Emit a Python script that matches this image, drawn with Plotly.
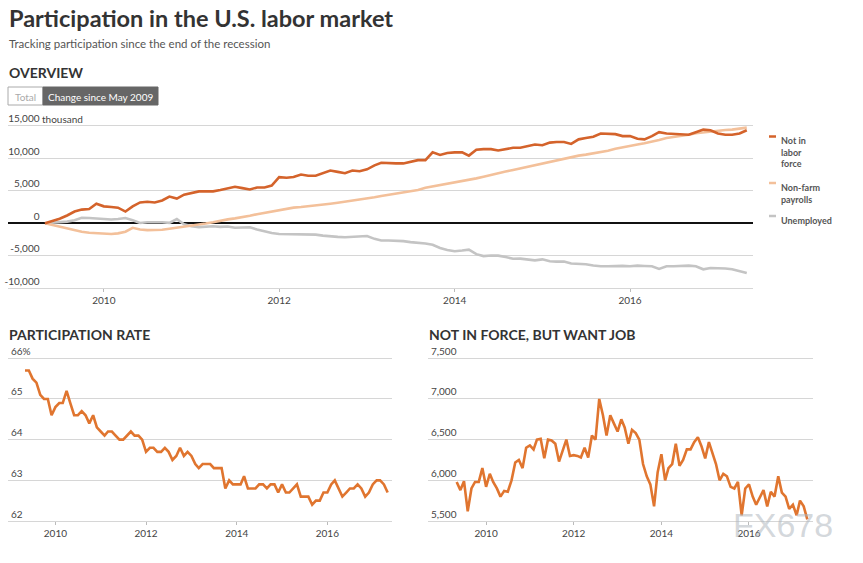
import pandas as pd
import plotly.graph_objects as go

W, H = 863, 563

# ---------------- data (monthly, May 2009 - May 2017) ----------------
months = pd.date_range("2009-05-01", "2017-05-01", freq="MS")

not_in_labor_force = [
    0, 300, 700, 1200, 1800, 2100, 2200, 3000, 2600, 2500, 2400, 1800,
    2600, 3200, 3300, 3200, 3500, 4100, 3800, 4400, 4700, 4900, 4900, 4900,
    5100, 5400, 5600, 5400, 5200, 5500, 5500, 5800, 7100, 7000, 7100, 7500,
    7300, 7300, 7700, 8100, 7900, 7700, 8100, 8000, 8300, 8900, 9300, 9200,
    9200, 9200, 9400, 9700, 9700, 10900, 10500, 10800, 10900, 10900, 10400, 11300,
    11400, 11400, 11200, 11400, 11600, 11600, 11800, 12100, 12000, 12400, 12500, 12500,
    12200, 12900, 13100, 13300, 13800, 13700, 13700, 13400, 13400, 13000, 12900, 13400,
    14000, 13800, 13700, 13600, 13600, 14000, 14400, 14300, 13800, 13600, 13600, 13800,
    14300,
]
non_farm_payrolls = [
    0, -280, -560, -850, -1100, -1300, -1450, -1550, -1620, -1650, -1550, -1300,
    -700, -950, -1050, -1080, -1000, -850, -700, -600, -450, -300, -50, 150,
    400, 600, 750, 900, 1150, 1400, 1600, 1850, 2100, 2250, 2400, 2500,
    2600, 2700, 2800, 3000, 3150, 3300, 3450, 3600, 3800, 4000, 4200, 4400,
    4550, 4700, 4900, 5100, 5450, 5650, 5850, 6050, 6300, 6450, 6600, 6900,
    7150, 7450, 7700, 7950, 8200, 8450, 8700, 8950, 9250, 9450, 9700, 9950,
    10200, 10400, 10550, 10750, 10900, 11150, 11450, 11700, 11900, 12100, 12300, 12500,
    12800, 13100, 13250, 13450, 13600, 13850, 14000, 14150, 14250, 14350, 14400, 14550,
    14700,
]
unemployed = [
    0, 50, 150, 250, 450, 850, 800, 700, 650, 580, 650, 800,
    450, 50, 150, 200, 150, 60, 650, -150, -450, -600, -550, -470,
    -560, -500, -700, -650, -620, -950, -1250, -1500, -1640, -1640, -1700, -1740,
    -1720, -1750, -1900, -2050, -2100, -2150, -2100, -2050, -1950, -2400, -2650, -2650,
    -2650, -2750, -2900, -2980, -3100, -3300, -3800, -4100, -4300, -4200, -4050, -4750,
    -5050, -4950, -4980, -5200, -5450, -5440, -5600, -5700, -5550, -5850, -5900, -5880,
    -6200, -6250, -6310, -6500, -6620, -6600, -6550, -6550, -6620, -6510, -6560, -6620,
    -7030, -6620, -6620, -6580, -6510, -6620, -7080, -6870, -6870, -6950, -7080, -7390,
    -7640,
]
participation_rate = [
    65.7, 65.7, 65.5, 65.4, 65.1, 65.0, 65.0, 64.6, 64.8, 64.9, 64.9, 65.2,
    64.9, 64.6, 64.6, 64.7, 64.6, 64.4, 64.6, 64.3, 64.2, 64.1, 64.2, 64.2,
    64.1, 64.0, 64.0, 64.1, 64.2, 64.1, 64.1, 64.0, 63.7, 63.8, 63.8, 63.7,
    63.7, 63.8, 63.7, 63.5, 63.6, 63.8, 63.6, 63.7, 63.6, 63.4, 63.3, 63.4,
    63.4, 63.4, 63.3, 63.3, 63.3, 62.8, 63.0, 62.9, 62.9, 62.9, 63.1, 62.8,
    62.8, 62.8, 62.9, 62.9, 62.8, 62.9, 62.9, 62.7, 62.9, 62.7, 62.7, 62.8,
    62.9, 62.6, 62.6, 62.6, 62.4, 62.5, 62.5, 62.7, 62.7, 62.9, 63.0, 62.8,
    62.6, 62.7, 62.8, 62.8, 62.9, 62.8, 62.6, 62.7, 62.9, 63.0, 63.0, 62.9,
    62.7,
]
want_job = [
    5980, 5880, 5990, 5620, 5900, 5980, 5980, 6150, 5920, 6080, 5980, 5900,
    5800, 5870, 5860, 6000, 6220, 6250, 6150, 6400, 6430, 6380, 6500, 6510,
    6270, 6500, 6490, 6450, 6230, 6370, 6500, 6300, 6310, 6300, 6280, 6400,
    6280, 6550, 6500, 7000, 6800, 6550, 6800, 6700, 6600, 6750, 6650, 6450,
    6620, 6580, 6500, 6200, 6050, 5950, 5680, 6100, 6320, 6000, 6150, 6200,
    6450, 6180, 6250, 6380, 6380, 6470, 6530, 6420, 6270, 6470, 6330, 6200,
    6000, 6080, 6050, 5920, 5900, 5980, 5570, 5900, 5950, 5800, 5700, 5800,
    5880, 5680, 5860, 5800, 6050, 5850, 5800, 5650, 5700, 5570, 5750, 5680,
    5520,
]

overview_names = ["Not in labor force", "Non-farm payrolls", "Unemployed"]
legend_labels = ["Not in<br>labor<br>force", "Non-farm<br>payrolls", "Unemployed"]
year_ticks = ["2010-01-01", "2012-01-01", "2014-01-01", "2016-01-01"]
year_labels = ["2010", "2012", "2014", "2016"]
top_ticks = [-10000, -5000, 0, 5000, 10000, 15000]
top_labels = ["-10,000", "-5,000", "0", "5,000", "10,000", "15,000"]
rate_ticks = [62, 63, 64, 65, 66]
rate_labels = ["62", "63", "64", "65", "66%"]
want_ticks = [5500, 6000, 6500, 7000, 7500]
want_labels = ["5,500", "6,000", "6,500", "7,000", "7,500"]

# ---------------- styles ----------------
FONT = "Lato"
C_DARK = "#d4632b"
C_PEACH = "#f3c09a"
C_GRAY = "#c4c4c4"
C_LINE = "#e0752f"
GRID = "#d6d6d6"
TXT = "#444444"


def px(x):
    return x / W


def py(y):
    return 1 - y / H


fig = go.Figure()

fig.add_trace(go.Scatter(x=months, y=unemployed, mode="lines", name=overview_names[2],
                         line=dict(color=C_GRAY, width=2.6), xaxis="x", yaxis="y"))
fig.add_trace(go.Scatter(x=months, y=non_farm_payrolls, mode="lines", name=overview_names[1],
                         line=dict(color=C_PEACH, width=2.6), xaxis="x", yaxis="y"))
fig.add_trace(go.Scatter(x=months, y=not_in_labor_force, mode="lines", name=overview_names[0],
                         line=dict(color=C_DARK, width=2.6), xaxis="x", yaxis="y"))
fig.add_trace(go.Scatter(x=months, y=participation_rate, mode="lines", name="Participation rate",
                         line=dict(color=C_LINE, width=2.6), xaxis="x2", yaxis="y2"))
fig.add_trace(go.Scatter(x=months, y=want_job, mode="lines", name="Not in force, but want job",
                         line=dict(color=C_LINE, width=2.6), xaxis="x3", yaxis="y3"))

xcommon = dict(type="date", tickmode="array", tickvals=year_ticks, ticktext=year_labels,
               showgrid=False, zeroline=False, showline=True, linecolor=GRID, linewidth=1,
               ticks="outside", ticklen=3, tickcolor="#bbbbbb", automargin=False,
               tickfont=dict(family=FONT, size=10, color=TXT))
ycommon = dict(tickmode="array", showgrid=True, gridcolor=GRID, gridwidth=1,
               showline=False, ticks="", automargin=False,
               tickfont=dict(family=FONT, size=10, color=TXT))

# pixel geometry: top panel 15,000 at y=125.7, -10,000 at y=288.3
TOP_PPU = (288.3 - 125.7) / 25000.0
top_hi = 15000 + (125.7 - 112) / TOP_PPU
BOT_RATE_PPU = (521 - 358.3) / 4.0
BOT_WANT_PPU = (521 - 358.3) / 2000.0
rate_hi = 66 + (358.3 - 344) / BOT_RATE_PPU
want_hi = 7500 + (358.3 - 344) / BOT_WANT_PPU

fig.update_layout(
    template="none",
    width=W, height=H, margin=dict(l=0, r=0, t=0, b=0, pad=0, autoexpand=False),
    paper_bgcolor="white", plot_bgcolor="white", showlegend=False,
    xaxis=dict(xcommon, domain=[px(8), px(753)], anchor="y",
               range=["2008-11-28", "2017-05-27"]),
    yaxis=dict(ycommon, domain=[py(288.3), py(112)], range=[-10000, top_hi],
               tickvals=top_ticks, ticktext=top_labels, anchor="free", position=px(39.5),
               ticklabelposition="outside top", zeroline=True, zerolinecolor="#111111",
               zerolinewidth=2),
    xaxis2=dict(xcommon, domain=[px(8), px(392)], anchor="y2",
                range=["2008-12-15", "2017-06-05"]),
    yaxis2=dict(ycommon, domain=[py(521), py(344)], range=[62, rate_hi], anchor="x2",
                tickvals=rate_ticks, ticktext=rate_labels, ticklabelposition="inside top",
                zeroline=False),
    xaxis3=dict(xcommon, domain=[px(428), px(812.7)], anchor="y3",
                range=["2008-09-04", "2017-06-15"]),
    yaxis3=dict(ycommon, domain=[py(521), py(344)], range=[5500, want_hi], anchor="x3",
                tickvals=want_ticks, ticktext=want_labels, ticklabelposition="inside top",
                zeroline=False),
)

ann = []


def text(x, y, s, size, color=TXT, bold=False, xanchor="left", yanchor="middle",
         family=FONT, align="left"):
    ann.append(dict(x=px(x), y=py(y), xref="paper", yref="paper", text=s, showarrow=False,
                    xanchor=xanchor, yanchor=yanchor, align=align,
                    font=dict(family=family, size=size, color=color,
                              weight="bold" if bold else "normal")))


text(7, 18, "Participation in the U.S. labor market", 23.5, "#333333", True)
text(7, 44, "Tracking participation since the end of the recession", 11.5, "#555555")
text(7, 72, "OVERVIEW", 14, "#333333", True)
text(7, 334, "PARTICIPATION RATE", 14, "#333333", True)
text(427, 334, "NOT IN FORCE, BUT WANT JOB", 14, "#333333", True)
text(40, 119, "thousand", 10, TXT)

# button group
shapes = [
    dict(type="rect", xref="paper", yref="paper", x0=px(8), x1=px(43), y0=py(105), y1=py(87),
         line=dict(color="#aaaaaa", width=1), fillcolor="white"),
    dict(type="rect", xref="paper", yref="paper", x0=px(43), x1=px(158), y0=py(105), y1=py(87),
         line=dict(color="#666666", width=1), fillcolor="#666666"),
]
text(25.5, 96.5, "Total", 10, "#aaaaaa", xanchor="center")
text(100.5, 96.5, "Change since May 2009", 10, "white", xanchor="center")

# legend (direct labels)
legend_items = [(C_DARK, 136.5), (C_PEACH, 183), (C_GRAY, 216)]
for (col, y0), lab in zip(legend_items, legend_labels):
    shapes.append(dict(type="line", xref="paper", yref="paper", x0=px(769), x1=px(776),
                       y0=py(y0), y1=py(y0), line=dict(color=col, width=2.5)))
    text(779, y0 - 3.5, lab, 9, "#555555", True, yanchor="top")

# watermark
text(783, 525, "FX678", 34, "rgba(175,182,190,0.55)", xanchor="center",
     family="Liberation Sans")

fig.update_layout(annotations=ann, shapes=shapes)
fig.write_html("out.html", config={"displayModeBar": False},
               post_script="document.body.style.margin='0';document.body.style.overflow='hidden';")
